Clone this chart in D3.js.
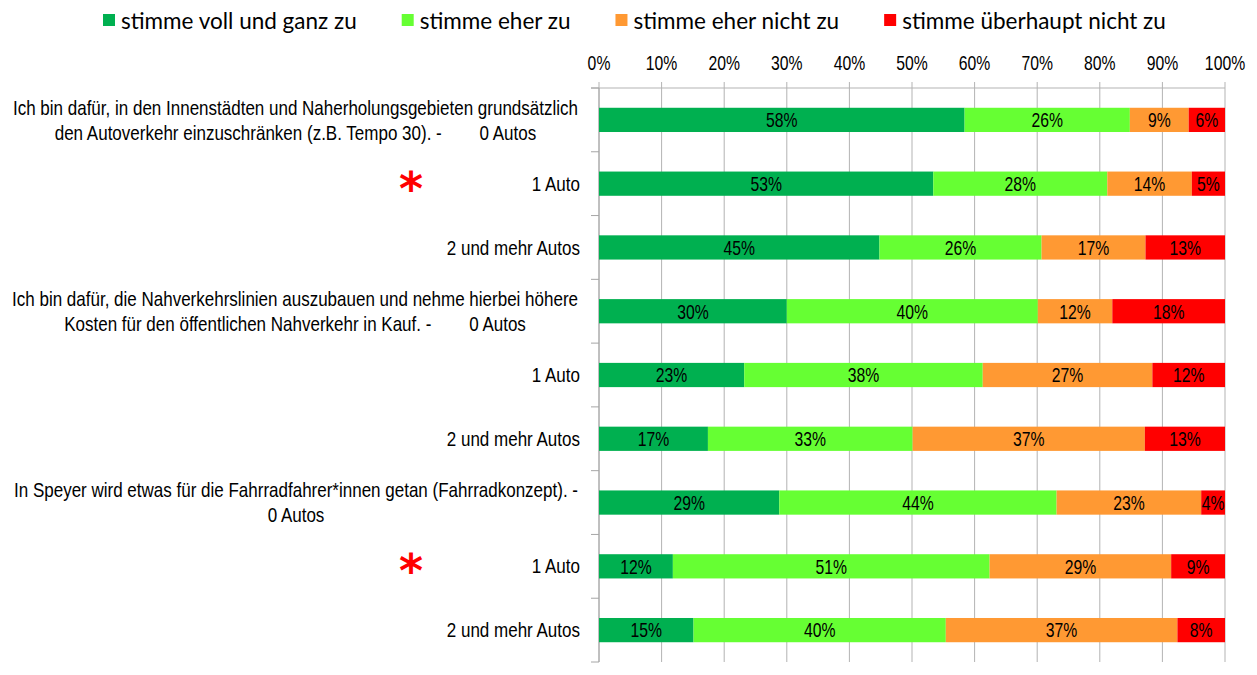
<!DOCTYPE html>
<html>
<head>
<meta charset="utf-8">
<script src="https://cdn.jsdelivr.net/npm/d3@7"></script>
<style>
  body { margin: 0; background: #fff; }
  svg { display: block; }
  text { white-space: pre; }
</style>
</head>
<body>
<div id="chart"></div>
<script>
//Size of the page.
let w = 1257
let h = 675

//Category labels, one array of lines per bar.
let categories = [
  ["Ich bin dafür, in den Innenstädten und Naherholungsgebieten grundsätzlich", "den Autoverkehr einzuschränken (z.B. Tempo 30). -        0 Autos"],
  ["1 Auto"],
  ["2 und mehr Autos"],
  ["Ich bin dafür, die Nahverkehrslinien auszubauen und nehme hierbei höhere", "Kosten für den öffentlichen Nahverkehr in Kauf. -        0 Autos"],
  ["1 Auto"],
  ["2 und mehr Autos"],
  ["In Speyer wird etwas für die Fahrradfahrer*innen getan (Fahrradkonzept). -", "0 Autos"],
  ["1 Auto"],
  ["2 und mehr Autos"]
]

//Rows marked with a red asterisk.
let starred = [1, 7]

//Answer series and their colours.
let seriesNames = ["stimme voll und ganz zu", "stimme eher zu", "stimme eher nicht zu", "stimme überhaupt nicht zu"]
let seriesColors = ["#00b050", "#66ff33", "#ff9933", "#ff0000"]

//Shares per row (in %).
let vollUndGanz     = [58.4, 53.4, 44.8, 30.0, 23.2, 17.4, 28.8, 11.8, 15.1]
let eher            = [26.4, 27.8, 25.9, 40.1, 38.1, 32.7, 44.3, 50.6, 40.3]
let eherNicht       = [9.4, 13.5, 16.6, 11.9, 27.1, 37.1, 23.1, 29.0, 37.0]
let ueberhauptNicht = [5.8, 5.3, 12.7, 18.0, 11.6, 12.8, 3.8, 8.6, 7.6]

//Axis ticks.
let tickVals = [0, 10, 20, 30, 40, 50, 60, 70, 80, 90, 100]

//Plot area.
let plotLeft = 599
let plotRight = 1225
let plotTop = 88
let plotBottom = 662

//Narrow font: Arial squeezed horizontally, like Arial Narrow.
let narrowFont = "Liberation Sans, Arial, sans-serif"
let narrowSize = 21
let numberScale = 0.75
let labelScale = 0.81

const svg = d3.select("#chart")
              .append("svg")
              .attr("width", w)
              .attr("height", h)

let rows = categories.map((c, i) => ({
  idx: i,
  values: [vollUndGanz[i], eher[i], eherNicht[i], ueberhauptNicht[i]]
}))

let x = d3.scaleLinear().domain([0, 100]).range([plotLeft, plotRight])
let y = d3.scaleBand()
          .domain(d3.range(categories.length))
          .range([plotTop, plotBottom])
          .paddingInner(0.62)
          .paddingOuter(0.31)

//Writes a narrow text at a position.
function narrowText(g, tx, ty, str, anchor, sx) {
  return g.append("text")
          .attr("transform", "translate(" + tx + "," + ty + ") scale(" + sx + ",1)")
          .attr("text-anchor", anchor)
          .attr("dominant-baseline", "central")
          .attr("font-family", narrowFont)
          .attr("font-size", narrowSize)
          .attr("fill", "#000")
          .text(str)
}

//Gridlines.
svg.append("g")
   .selectAll("line")
   .data(tickVals)
   .enter()
   .append("line")
   .attr("x1", d => x(d))
   .attr("x2", d => x(d))
   .attr("y1", plotTop - 6)
   .attr("y2", plotBottom)
   .attr("stroke", "#b3b3b3")
   .attr("stroke-width", 1)

//Top axis line.
svg.append("line")
   .attr("x1", x(0) - 8)
   .attr("x2", x(100))
   .attr("y1", plotTop)
   .attr("y2", plotTop)
   .attr("stroke", "#b3b3b3")

//Left axis line and ticks between categories.
svg.append("line")
   .attr("x1", x(0))
   .attr("x2", x(0))
   .attr("y1", plotTop)
   .attr("y2", plotBottom)
   .attr("stroke", "#a6a6a6")

svg.append("g")
   .selectAll("line")
   .data(d3.range(categories.length + 1))
   .enter()
   .append("line")
   .attr("x1", x(0) - 8)
   .attr("x2", x(0))
   .attr("y1", d => plotTop + d * y.step())
   .attr("y2", d => plotTop + d * y.step())
   .attr("stroke", "#a6a6a6")

//Axis labels.
let axisG = svg.append("g")
tickVals.forEach(t => narrowText(axisG, x(t), 63, t + "%", "middle", numberScale))

//Stacked bars.
let barG = svg.append("g")
rows.forEach(r => {
  let start = 0
  r.values.forEach((v, j) => {
    barG.append("rect")
        .attr("x", x(start))
        .attr("y", y(r.idx))
        .attr("width", x(start + v) - x(start))
        .attr("height", y.bandwidth())
        .attr("fill", seriesColors[j])
    narrowText(barG, (x(start) + x(start + v)) / 2, y(r.idx) + y.bandwidth() / 2, Math.round(v) + "%", "middle", numberScale)
    start += v
  })
})

//Category labels.
let labelG = svg.append("g")
categories.forEach((lines, i) => {
  let cy = y(i) + y.bandwidth() / 2
  let lh = 25
  if (lines.length == 1) {
    narrowText(labelG, 580, cy, lines[0], "end", labelScale)
  } else {
    //Two-line labels are centred as a block that ends at the axis.
    let tmp = lines.map(l => narrowText(labelG, 0, 0, l, "start", labelScale))
    let widths = tmp.map(t => t.node().getComputedTextLength() * labelScale)
    tmp.forEach(t => t.remove())
    let cx = 578 - d3.max(widths) / 2
    lines.forEach((l, k) => {
      narrowText(labelG, cx, cy + (k - (lines.length - 1) / 2) * lh, l, "middle", labelScale)
    })
  }
})

//Red asterisks.
svg.append("g")
   .selectAll("text")
   .data(starred)
   .enter()
   .append("text")
   .attr("x", 411)
   .attr("y", d => y(d) + y.bandwidth() / 2 + 21)
   .attr("text-anchor", "middle")
   .attr("font-family", "DejaVu Sans, sans-serif")
   .attr("font-weight", "bold")
   .attr("font-size", 46)
   .attr("fill", "#ff0000")
   .text("*")

//Legend.
let legendG = svg.append("g")
let lx = 103
seriesNames.forEach((s, i) => {
  legendG.append("rect")
         .attr("x", lx)
         .attr("y", 14)
         .attr("width", 12)
         .attr("height", 12)
         .attr("fill", seriesColors[i])
  let t = legendG.append("text")
                 .attr("x", lx + 18)
                 .attr("y", 20)
                 .attr("dominant-baseline", "central")
                 .attr("font-family", "Lato, sans-serif")
                 .attr("font-size", 22.5)
                 .attr("fill", "#000")
                 .text(s)
  lx += 18 + t.node().getComputedTextLength() + 45
})
</script>
</body>
</html>
